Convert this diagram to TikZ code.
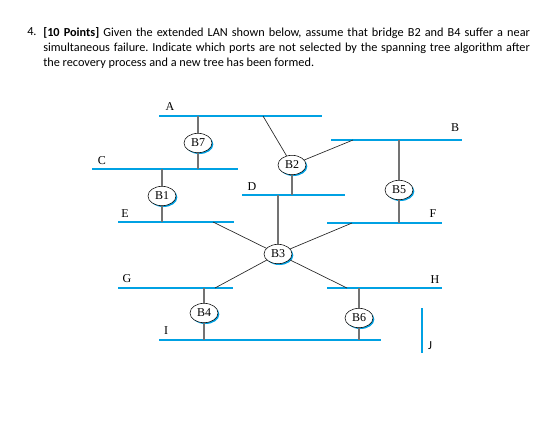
\documentclass[tikz,border=0pt]{standalone}
\usepackage{fontspec}
\setmainfont{Liberation Serif}
\newfontfamily\questionfont{Carlito}
\usetikzlibrary{shapes.geometric,shadows}

\definecolor{LanColor}{rgb}{0.0,0.63,0.89}
\definecolor{PortColor}{rgb}{0.45,0.45,0.45}
\tikzstyle{bridge}=[ellipse,
                    draw=black,
                    fill=white,
                    inner sep=0pt,
                    minimum width=21pt,
                    minimum height=14.5pt,
                    font=\fontsize{9}{10}\selectfont,
                    drop shadow={shadow xshift=1pt, shadow yshift=-1pt, fill=LanColor, opacity=1},
                   ]
\tikzstyle{lanlabel}=[inner sep=0pt, font=\fontsize{9}{10}\selectfont]
\tikzstyle{lan}=[draw=LanColor, line width=1.5pt]
\tikzstyle{port}=[draw=PortColor, line width=1pt]
\tikzstyle{link}=[draw=black!85, line width=0.5pt]
\tikzstyle{question}=[inner sep=0pt, anchor=north west,
                      font=\questionfont\fontsize{9.2}{11.3}\selectfont]

\begin{document}
\begin{tikzpicture}[x=0.75pt, y=-0.75pt]
\useasboundingbox (0,0) rectangle (553,426);

% question
\node at (27,27) (qnum)  [question] {4.};
\node at (43,27) (qtext) [question, text width=365pt, align=justify]
  {\frenchspacing\textbf{[10 Points]} Given the extended LAN shown below, assume that bridge B2 and B4 suffer a near\linebreak
   simultaneous failure. Indicate which ports are not selected by the spanning tree algorithm after\linebreak
   the recovery process and a new tree has been formed.};

% LAN segments
\coordinate (A-w) at (159,116);  \coordinate (A-e) at (322,116);
\coordinate (B-w) at (331,140);  \coordinate (B-e) at (462,140);
\coordinate (C-w) at (92,169);   \coordinate (C-e) at (238,169);
\coordinate (D-w) at (242,195);  \coordinate (D-e) at (345,195);
\coordinate (E-w) at (118,222);  \coordinate (E-e) at (234,222);
\coordinate (F-w) at (327,223);  \coordinate (F-e) at (442,223);
\coordinate (G-w) at (118,288);  \coordinate (G-e) at (233,288);
\coordinate (H-w) at (327,288);  \coordinate (H-e) at (442,288);
\coordinate (I-w) at (159,340);  \coordinate (I-e) at (381,340);
\coordinate (J-n) at (422,308);  \coordinate (J-s) at (422,353);

\draw[lan] (A-w) -- (A-e);
\draw[lan] (B-w) -- (B-e);
\draw[lan] (C-w) -- (C-e);
\draw[lan] (D-w) -- (D-e);
\draw[lan] (E-w) -- (E-e);
\draw[lan] (F-w) -- (F-e);
\draw[lan] (G-w) -- (G-e);
\draw[lan] (H-w) -- (H-e);
\draw[lan] (I-w) -- (I-e);
\draw[lan] (J-n) -- (J-s);

\node at (170,107) (A-lbl) [lanlabel] {A};
\node at (455,128) (B-lbl) [lanlabel] {B};
\node at (102,161) (C-lbl) [lanlabel] {C};
\node at (252,187) (D-lbl) [lanlabel] {D};
\node at (125,214) (E-lbl) [lanlabel] {E};
\node at (433,214) (F-lbl) [lanlabel] {F};
\node at (127,279) (G-lbl) [lanlabel] {G};
\node at (435,280) (H-lbl) [lanlabel] {H};
\node at (166,331) (I-lbl) [lanlabel] {I};
\node at (430,346) (J-lbl) [lanlabel, font=\questionfont\fontsize{9.2}{10}\selectfont] {J};

% bridges
\node at (198,143) (B7) [bridge] {B7};
\node at (162,196) (B1) [bridge] {B1};
\node at (292,165) (B2) [bridge] {B2};
\node at (399,190) (B5) [bridge] {B5};
\node at (278,254) (B3) [bridge] {B3};
\node at (204,313) (B4) [bridge] {B4};
\node at (359,318) (B6) [bridge] {B6};

% ports
\coordinate (A-b2) at (263,116);
\coordinate (B-b2) at (353,140);
\coordinate (E-b3) at (213,222);
\coordinate (F-b3) at (352,223);
\coordinate (G-b3) at (215,288);
\coordinate (H-b3) at (347,288);

\draw[port] (B7) -- (B7 |- A-w);
\draw[port] (B7) -- (B7 |- C-w);
\draw[port] (B1) -- (B1 |- C-w);
\draw[port] (B1) -- (B1 |- E-w);
\draw[link] (B2) -- (A-b2);
\draw[link] (B2) -- (B-b2);
\draw[port] (B2) -- (B2 |- D-w);
\draw[port] (B5) -- (B5 |- B-w);
\draw[port] (B5) -- (B5 |- F-w);
\draw[port] (B3) -- (B3 |- D-w);
\draw[link] (B3) -- (E-b3);
\draw[link] (B3) -- (F-b3);
\draw[link] (B3) -- (G-b3);
\draw[link] (B3) -- (H-b3);
\draw[port] (B4) -- (B4 |- G-w);
\draw[port] (B4) -- (B4 |- I-w);
\draw[port] (B6) -- (B6 |- H-w);
\draw[port] (B6) -- (B6 |- I-w);
\end{tikzpicture}
\end{document}
